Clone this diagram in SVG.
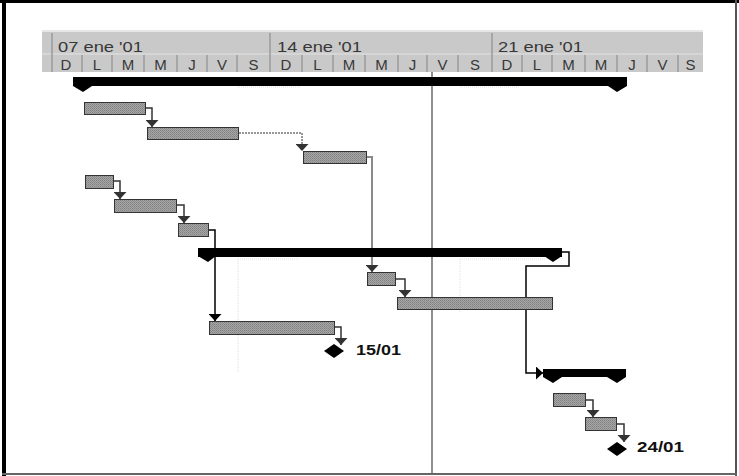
<svg xmlns="http://www.w3.org/2000/svg" width="739" height="476" viewBox="0 0 739 476">
<defs>
<pattern id="dots" width="2" height="2" patternUnits="userSpaceOnUse">
<rect width="2" height="2" fill="#a6a6a6"/>
<rect width="1" height="1" fill="#808080"/>
<rect x="1" y="1" width="1" height="1" fill="#8e8e8e"/>
</pattern>
<marker id="arr" viewBox="0 0 7 13" refX="7" refY="6.5" markerWidth="7" markerHeight="13" markerUnits="userSpaceOnUse" orient="auto">
<path d="M0,0 L7,6.5 L0,13 Z" fill="#333"/>
</marker>
<marker id="arrK" viewBox="0 0 7 13" refX="7" refY="6.5" markerWidth="7" markerHeight="13" markerUnits="userSpaceOnUse" orient="auto">
<path d="M0,0 L7,6.5 L0,13 Z" fill="#000"/>
</marker>
</defs>
<style>
.hdr{font-family:"Liberation Sans",Arial,sans-serif;font-size:15.5px;fill:#383838}
.day{font-family:"Liberation Sans",Arial,sans-serif;font-size:15px;fill:#383838;text-anchor:middle}
.sep{stroke:#9a9a9a;stroke-width:1.5}
.task{fill:url(#dots);stroke:#333;stroke-width:1}
.sum{fill:#000}
.lnk{fill:none;stroke:#333;stroke-width:1.5;marker-end:url(#arr)}
.lnkK{fill:none;stroke:#000;stroke-width:1.5;marker-end:url(#arrK)}
.lnkG{fill:none;stroke:#8a8a8a;stroke-width:2;marker-end:url(#arr)}
.ms{fill:#000}
.lbl{font-family:"Liberation Sans",Arial,sans-serif;font-size:15px;font-weight:bold;fill:#111}
.faint{fill:none;stroke:#e2e2e2;stroke-width:1;stroke-dasharray:1 1}
</style>
<rect width="739" height="476" fill="#fff"/>
<!-- frame -->
<rect x="0" y="0" width="739" height="3" fill="#000"/>
<rect x="2" y="0" width="4" height="476" fill="#000"/>
<rect x="735" y="0" width="2" height="476" fill="#555"/>
<rect x="2" y="473" width="735" height="2" fill="#666"/>
<!-- header -->
<g id="timescale">
<rect x="42" y="30" width="661" height="42" fill="#c9c9c9"/>
<line x1="42" y1="31" x2="703" y2="31" stroke="#e6e6e6" stroke-width="2"/>
<line x1="42" y1="54" x2="703" y2="54" stroke="#dadada" stroke-width="1.5"/>
<line x1="52" y1="33" x2="52" y2="72" class="sep"/>
<line x1="270" y1="33" x2="270" y2="72" class="sep"/>
<line x1="492" y1="33" x2="492" y2="72" class="sep"/>
<g class="sep">
<line x1="82" y1="55" x2="82" y2="72"/><line x1="112" y1="55" x2="112" y2="72"/><line x1="144" y1="55" x2="144" y2="72"/><line x1="177" y1="55" x2="177" y2="72"/><line x1="207" y1="55" x2="207" y2="72"/><line x1="237" y1="55" x2="237" y2="72"/>
<line x1="302" y1="55" x2="302" y2="72"/><line x1="333" y1="55" x2="333" y2="72"/><line x1="365" y1="55" x2="365" y2="72"/><line x1="398" y1="55" x2="398" y2="72"/><line x1="427" y1="55" x2="427" y2="72"/><line x1="458" y1="55" x2="458" y2="72"/>
<line x1="522" y1="55" x2="522" y2="72"/><line x1="552" y1="55" x2="552" y2="72"/><line x1="585" y1="55" x2="585" y2="72"/><line x1="617" y1="55" x2="617" y2="72"/><line x1="647" y1="55" x2="647" y2="72"/><line x1="678" y1="55" x2="678" y2="72"/>
</g>
<text class="hdr" x="58" y="51.5" textLength="85" lengthAdjust="spacingAndGlyphs">07 ene '01</text>
<text class="hdr" x="277" y="51.5" textLength="85" lengthAdjust="spacingAndGlyphs">14 ene '01</text>
<text class="hdr" x="498" y="51.5" textLength="85" lengthAdjust="spacingAndGlyphs">21 ene '01</text>
<text class="day" x="66" y="69.5">D</text><text class="day" x="97" y="69.5">L</text><text class="day" x="128" y="69.5">M</text><text class="day" x="160.5" y="69.5">M</text><text class="day" x="192" y="69.5">J</text><text class="day" x="222" y="69.5">V</text><text class="day" x="253.5" y="69.5">S</text>
<text class="day" x="286" y="69.5">D</text><text class="day" x="317.5" y="69.5">L</text><text class="day" x="349" y="69.5">M</text><text class="day" x="381.5" y="69.5">M</text><text class="day" x="412.5" y="69.5">J</text><text class="day" x="442.5" y="69.5">V</text><text class="day" x="475" y="69.5">S</text>
<text class="day" x="507" y="69.5">D</text><text class="day" x="537" y="69.5">L</text><text class="day" x="568.5" y="69.5">M</text><text class="day" x="601" y="69.5">M</text><text class="day" x="632" y="69.5">J</text><text class="day" x="662.5" y="69.5">V</text><text class="day" x="690.5" y="69.5">S</text>
</g>
<!-- faint traces -->
<g id="faint">
<line class="faint" x1="238" y1="259" x2="238" y2="372"/>
<line class="faint" x1="460" y1="259" x2="460" y2="312"/>
<line class="faint" x1="238" y1="259" x2="300" y2="259"/>
<line class="faint" x1="460" y1="259" x2="545" y2="259"/>
<line class="faint" x1="237" y1="87" x2="300" y2="87"/>
<line class="faint" x1="460" y1="87" x2="520" y2="87"/>
</g>
<!-- status date line -->
<line id="status-line" x1="432" y1="72" x2="432" y2="473" stroke="#444" stroke-width="1.2"/>
<!-- connectors -->
<g id="connectors">
<path class="lnk" d="M146,108 H152 V127"/>
<path class="lnk" d="M239,133 H302 V151" style="stroke:#777;stroke-dasharray:2 1"/>
<path class="lnkG" d="M367,157 H372 V272"/>
<path class="lnk" d="M114,181 H120 V199"/>
<path class="lnk" d="M177,205 H184 V223"/>
<path class="lnkK" d="M209,230 H215 V321"/>
<path class="lnk" d="M396,279 H405 V297"/>
<path class="lnk" d="M335,327 H341 V345"/>
<path class="lnkK" d="M562,252 H569 V266 H526 V373 H543"/>
<path class="lnk" d="M586,400 H593 V417"/>
<path class="lnk" d="M617,424 H624 V442"/>
</g>
<!-- summary bars -->
<g id="summary1">
<rect class="sum" x="73" y="77" width="554" height="9"/>
<path class="sum" d="M73,77 H92 V86 L83,92 L73,86 Z"/>
<path class="sum" d="M608,77 H627 V86 L617,92 L608,86 Z"/>
</g>
<g id="summary2">
<rect class="sum" x="198" y="248" width="364" height="9"/>
<path class="sum" d="M198,248 H216 V256 L208,262 L198,256 Z"/>
<path class="sum" d="M544,248 H562 V256 L553,262 L544,256 Z"/>
</g>
<g id="summary3">
<rect class="sum" x="543" y="369" width="83" height="8"/>
<path class="sum" d="M543,369 H562 V377 L553,383 L543,377 Z"/>
<path class="sum" d="M607,369 H626 V377 L617,383 L607,377 Z"/>
</g>
<!-- tasks -->
<g id="task1"><rect class="task" x="84.5" y="102.5" width="61" height="12"/></g>
<g id="task2"><rect class="task" x="147.5" y="127.5" width="91" height="12"/></g>
<g id="task3"><rect class="task" x="303.5" y="151.5" width="63" height="12"/></g>
<g id="task4"><rect class="task" x="85.5" y="175.5" width="28" height="13"/></g>
<g id="task5"><rect class="task" x="114.5" y="199.5" width="62" height="13"/></g>
<g id="task6"><rect class="task" x="178.5" y="223.5" width="30" height="13"/></g>
<g id="task7"><rect class="task" x="209.5" y="321.5" width="125" height="13"/></g>
<g id="task8"><rect class="task" x="367.5" y="272.5" width="28" height="13"/></g>
<g id="task9"><rect class="task" x="397.5" y="297.5" width="155" height="12"/></g>
<g id="task10"><rect class="task" x="553.5" y="393.5" width="32" height="13"/></g>
<g id="task11"><rect class="task" x="585.5" y="417.5" width="31" height="13"/></g>
<!-- milestones -->
<g id="milestone1">
<path class="ms" d="M334,344 L344,351 L334,358 L324,351 Z"/>
<text class="lbl" x="356" y="355" textLength="45" lengthAdjust="spacingAndGlyphs">15/01</text>
</g>
<g id="milestone2">
<path class="ms" d="M617,442 L627,449 L617,456 L607,449 Z"/>
<text class="lbl" x="637" y="452" textLength="47" lengthAdjust="spacingAndGlyphs">24/01</text>
</g>
</svg>
